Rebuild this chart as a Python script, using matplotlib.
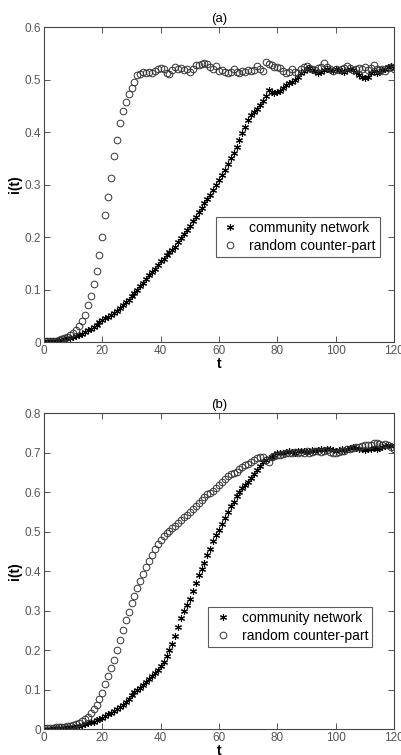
import matplotlib
matplotlib.use("Agg")
import matplotlib.pyplot as plt

plt.rcParams['font.family'] = ['Liberation Sans', 'DejaVu Sans']

t = list(range(0, 121))

# panel (a)
comm_a = [0, 0.001, 0.001, 0.002, 0.002, 0.003,
          0.004, 0.005, 0.007, 0.008, 0.010,
          0.012, 0.014, 0.016, 0.019, 0.022,
          0.025, 0.029, 0.033, 0.038, 0.042,
          0.045, 0.048, 0.051, 0.055, 0.059,
          0.064, 0.070, 0.076, 0.081, 0.087,
          0.093, 0.099, 0.106, 0.113, 0.120,
          0.127, 0.133, 0.140, 0.147, 0.154,
          0.159, 0.165, 0.171, 0.176, 0.182,
          0.190, 0.198, 0.206, 0.214, 0.222,
          0.230, 0.238, 0.247, 0.256, 0.265,
          0.272, 0.280, 0.289, 0.299, 0.309,
          0.318, 0.328, 0.340, 0.350, 0.360,
          0.372, 0.385, 0.398, 0.410, 0.424,
          0.432, 0.438, 0.445, 0.452, 0.460,
          0.468, 0.480, 0.476, 0.474, 0.476,
          0.478, 0.485, 0.490, 0.494, 0.496,
          0.500, 0.506, 0.512, 0.516, 0.520,
          0.522, 0.518, 0.516, 0.512, 0.514,
          0.518, 0.520, 0.519, 0.516, 0.520,
          0.518, 0.516, 0.514, 0.518, 0.520,
          0.518, 0.515, 0.508, 0.505, 0.503,
          0.506, 0.512, 0.516, 0.512, 0.514,
          0.518, 0.520, 0.524, 0.526, 0.522]

rand_a = [0.001, 0.001, 0.002, 0.002, 0.002, 0.003,
          0.005, 0.007, 0.010, 0.013, 0.017,
          0.022, 0.030, 0.040, 0.052, 0.070,
          0.087, 0.110, 0.136, 0.165, 0.200,
          0.243, 0.277, 0.312, 0.354, 0.385,
          0.418, 0.440, 0.458, 0.472, 0.485,
          0.495, 0.508, 0.510, 0.514, 0.512,
          0.515, 0.513, 0.516, 0.520, 0.522,
          0.520, 0.512, 0.510, 0.518, 0.525,
          0.520, 0.522, 0.518, 0.520, 0.515,
          0.520, 0.527, 0.528, 0.530, 0.532,
          0.530, 0.525, 0.520, 0.526, 0.516,
          0.518, 0.515, 0.513, 0.515, 0.520,
          0.515, 0.513, 0.516, 0.514, 0.518,
          0.516, 0.518, 0.526, 0.520, 0.516,
          0.533, 0.530, 0.527, 0.524, 0.525,
          0.522, 0.516, 0.512, 0.514, 0.520,
          0.514, 0.512, 0.520, 0.525, 0.526,
          0.522, 0.520, 0.518, 0.522, 0.524,
          0.532, 0.524, 0.520, 0.516, 0.520,
          0.518, 0.520, 0.522, 0.526, 0.522,
          0.518, 0.520, 0.522, 0.520, 0.524,
          0.518, 0.522, 0.527, 0.520, 0.518,
          0.520, 0.516, 0.522, 0.524, 0.520]

# panel (b)
comm_b = [0.001, 0.001, 0.001, 0.002, 0.002, 0.002,
          0.003, 0.003, 0.004, 0.005, 0.006,
          0.007, 0.008, 0.010, 0.012, 0.014,
          0.017, 0.019, 0.022, 0.025, 0.029,
          0.033, 0.037, 0.041, 0.045, 0.050,
          0.056, 0.062, 0.069, 0.077, 0.086,
          0.093, 0.099, 0.105, 0.112, 0.120,
          0.127, 0.134, 0.142, 0.150, 0.160,
          0.170, 0.185, 0.200, 0.215, 0.235,
          0.258, 0.280, 0.300, 0.315, 0.330,
          0.350, 0.370, 0.390, 0.405, 0.420,
          0.440, 0.455, 0.475, 0.490, 0.505,
          0.520, 0.535, 0.550, 0.565, 0.575,
          0.590, 0.600, 0.610, 0.618, 0.625,
          0.635, 0.645, 0.655, 0.665, 0.675,
          0.680, 0.685, 0.690, 0.695, 0.698,
          0.700, 0.700, 0.702, 0.703, 0.702,
          0.700, 0.704, 0.705, 0.703, 0.702,
          0.704, 0.706, 0.705, 0.707, 0.708,
          0.706, 0.708, 0.710, 0.707, 0.705,
          0.706, 0.708, 0.707, 0.710, 0.712,
          0.714, 0.712, 0.710, 0.708, 0.706,
          0.708, 0.710, 0.712, 0.710, 0.712,
          0.714, 0.716, 0.718, 0.716, 0.718]

rand_b = [0.002, 0.002, 0.003, 0.003, 0.004, 0.005,
          0.006, 0.006, 0.007, 0.008, 0.010,
          0.013, 0.016, 0.020, 0.025, 0.031,
          0.040, 0.050, 0.062, 0.075, 0.092,
          0.115, 0.133, 0.155, 0.175, 0.200,
          0.225, 0.250, 0.275, 0.297, 0.318,
          0.338, 0.358, 0.376, 0.393, 0.410,
          0.425, 0.440, 0.456, 0.468, 0.478,
          0.488, 0.496, 0.502, 0.508, 0.515,
          0.522, 0.530, 0.537, 0.543, 0.550,
          0.558, 0.565, 0.572, 0.580, 0.588,
          0.594, 0.598, 0.603, 0.610, 0.618,
          0.625, 0.632, 0.640, 0.645, 0.648,
          0.652, 0.658, 0.664, 0.668, 0.672,
          0.676, 0.680, 0.685, 0.690, 0.688,
          0.682, 0.676, 0.688, 0.692, 0.695,
          0.694, 0.696, 0.698, 0.700, 0.700,
          0.702, 0.700, 0.702, 0.700, 0.703,
          0.700, 0.702, 0.704, 0.703, 0.702,
          0.704, 0.706, 0.702, 0.700, 0.698,
          0.702, 0.705, 0.704, 0.708, 0.710,
          0.712, 0.714, 0.713, 0.716, 0.720,
          0.718, 0.720, 0.723, 0.725, 0.722,
          0.720, 0.722, 0.720, 0.715, 0.710]

xticks = [0, 20, 40, 60, 80, 100, 120]
yticks_a = [0, 0.1, 0.2, 0.3, 0.4, 0.5, 0.6]
yticks_b = [0, 0.1, 0.2, 0.3, 0.4, 0.5, 0.6, 0.7, 0.8]

fig = plt.figure(figsize=(4.01, 7.55), dpi=100)
ax1 = fig.add_axes([0.1097, 0.547, 0.873, 0.417])
ax2 = fig.add_axes([0.1097, 0.0344, 0.873, 0.4185])

tc = '#555555'


def draw(ax, comm, rand, yticks, title, leg_xy):
    ax.plot(t, comm, linestyle='none', marker=(6, 2, 0), markersize=5,
            markeredgecolor='black', markeredgewidth=0.8, label='community network')
    ax.plot(t, rand, linestyle='none', marker='o', markersize=4.8,
            markerfacecolor='none', markeredgecolor='#333333', markeredgewidth=0.7,
            label='random counter-part')
    ax.set_xlim(0, 120)
    ax.set_ylim(yticks[0], yticks[-1])
    ax.set_xticks(xticks)
    ax.set_xticklabels([str(x) for x in xticks])
    ax.set_yticks(yticks)
    ax.set_yticklabels(['0'] + ['%g' % y for y in yticks[1:]])
    ax.tick_params(direction='in', top=True, right=True, length=4, width=0.7,
                   labelsize=8.5, labelcolor=tc, color='#555555', pad=2)
    for s in ax.spines.values():
        s.set_color('#444444')
        s.set_linewidth(0.8)
    ax.set_xlabel('t', fontsize=10, fontweight='bold', labelpad=0)
    ax.set_ylabel('i(t)', fontsize=10, fontweight='bold', labelpad=2)
    ax.set_title(title, fontsize=9.5, pad=4)
    leg = ax.legend(loc='upper left', bbox_to_anchor=leg_xy, fontsize=10,
                    frameon=True, fancybox=False, borderaxespad=0,
                    handletextpad=0.6, handlelength=1.5, borderpad=0.3,
                    labelspacing=0.25)
    leg.get_frame().set_edgecolor('#333333')
    leg.get_frame().set_linewidth(0.8)


draw(ax1, comm_a, rand_a, yticks_a, '(a)', (0.491, 0.397))
draw(ax2, comm_b, rand_b, yticks_b, '(b)', (0.469, 0.386))

fig.savefig('out.png', dpi=100)
